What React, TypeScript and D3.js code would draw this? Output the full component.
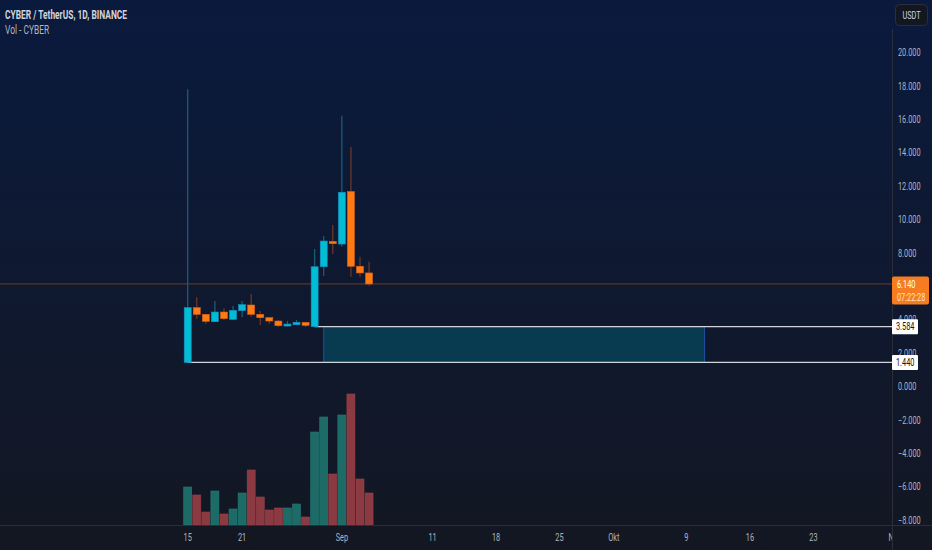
import * as d3 from 'd3'

const W = 932
const H = 550
const PANE_RIGHT = 892
const PANE_BOTTOM = 525

// daily candles, CYBER/USDT from 15 Aug 2023
const startDay = '2023-08-15'
const opens = [1.44, 4.72, 4.32, 3.88, 4.46, 4.02, 4.54, 4.88, 4.32, 4.12, 3.92, 3.62, 3.7, 3.84, 3.584, 7.17, 8.69, 8.53, 11.67, 7.2, 6.8]
const highs = [17.8, 5.34, 4.35, 5.12, 4.68, 4.82, 5.12, 5.54, 4.52, 4.14, 3.98, 3.92, 3.98, 3.86, 8.23, 9.01, 9.67, 16.22, 14.34, 7.77, 7.47]
const lows = [1.44, 4.06, 3.76, 3.86, 3.98, 4.0, 4.14, 4.18, 3.68, 3.76, 3.56, 3.6, 3.68, 3.56, 3.58, 6.62, 7.93, 8.37, 6.57, 6.57, 6.04]
const closes = [4.72, 4.32, 3.9, 4.46, 4.06, 4.56, 4.9, 4.32, 4.12, 3.92, 3.64, 3.74, 3.84, 3.66, 7.17, 8.71, 8.55, 11.63, 7.2, 6.8, 6.14]
// volume, millions CYBER
const volumes = [38, 30, 13, 34, 11, 16, 32, 55, 28, 15, 17, 17, 21, 8, 93, 108, 51, 110, 131, 46, 32]

const priceTicks = [-8, -6, -4, -2, 0, 2, 4, 6, 8, 10, 12, 14, 16, 18, 20]
const timeTickDates = ['2023-08-15', '2023-08-21', '2023-09-01', '2023-09-11', '2023-09-18', '2023-09-25', '2023-10-01', '2023-10-09', '2023-10-16', '2023-10-23', '2023-11-01']
const timeTickLabels = ['15', '21', 'Sep', '11', '18', '25', 'Okt', '9', '16', '23', 'Nov']

const lastPrice = 6.14
const countdown = '07:22:28'
const zoneTop = 3.584
const zoneBottom = 1.44
const zoneLineStart = '2023-08-29'
const zoneStart = '2023-08-30'
const zoneEnd = '2023-10-11'

const UP = '#00bcd4'
const DOWN = '#ff7a12'
const FONT = 'Roboto, "Noto Sans", sans-serif'
const SQUEEZE = 0.7 // the screenshot is narrowed horizontally

const day = (s: string) => new Date(s + 'T00:00:00Z')
const start = day(startDay)
const dates = opens.map((_, i) => d3.utcDay.offset(start, i))

type LabelProps = {
  x: number
  y: number
  fill: string
  size?: number
  weight?: number
  anchor?: 'start' | 'middle' | 'end'
  children: string
}

function Label({ x, y, fill, size = 10.5, weight = 400, anchor = 'start', children }: LabelProps) {
  return (
    <text
      transform={`translate(${x},${y}) scale(${SQUEEZE},1)`}
      dy="0.35em"
      fill={fill}
      fontSize={size}
      fontWeight={weight}
      textAnchor={anchor}
    >
      {children}
    </text>
  )
}

export default function App() {
  const x = d3.scaleUtc().domain([start, day('2023-11-01')]).range([187.7, 895])
  const y = d3.scaleLinear().domain([0, 20]).range([386.5, 52.5])
  const v = d3.scaleLinear().domain([0, 140]).range([PANE_BOTTOM, PANE_BOTTOM - 140])
  const fmt = d3.format('.3f')

  const bodyW = 7
  const volW = 8
  const zx0 = x(day(zoneStart))
  const zx1 = x(day(zoneEnd))

  return (
    <div style={{ position: 'fixed', left: 0, top: 0, width: W, height: H }}>
      <svg width={W} height={H} viewBox={`0 0 ${W} ${H}`} style={{ display: 'block' }} fontFamily={FONT}>
        <defs>
          <linearGradient id="bg" x1="0" x2="0" y1="0" y2="1">
            <stop offset="0%" stopColor="#0a1a3e" />
            <stop offset="100%" stopColor="#131722" />
          </linearGradient>
          <clipPath id="pane">
            <rect x={0} y={0} width={PANE_RIGHT} height={H} />
          </clipPath>
        </defs>
        <rect width={W} height={H} fill="url(#bg)" />

        {/* volume */}
        <g>
          {volumes.map((d, i) => {
            const up = closes[i] >= opens[i]
            return (
              <rect
                key={i}
                x={x(dates[i]) - volW / 2}
                y={v(d)}
                width={volW}
                height={v(0) - v(d)}
                fill={up ? '#1d6b67' : '#8c3a41'}
                stroke={up ? '#247a75' : '#9a4148'}
                strokeWidth={0.6}
              />
            )
          })}
        </g>

        {/* last price line */}
        <line x1={0} x2={PANE_RIGHT} y1={y(lastPrice)} y2={y(lastPrice)} stroke="#f57c20" strokeOpacity={0.4} />

        {/* zone */}
        <rect
          x={zx0}
          y={y(zoneTop)}
          width={zx1 - zx0}
          height={y(zoneBottom) - y(zoneTop)}
          fill="#083a50"
          stroke="#1f4fa8"
          strokeWidth={1}
        />
        <line x1={x(day(zoneLineStart))} x2={PANE_RIGHT} y1={y(zoneTop)} y2={y(zoneTop)} stroke="#d1d4dc" strokeWidth={1.2} />
        <line x1={x(start)} x2={PANE_RIGHT} y1={y(zoneBottom)} y2={y(zoneBottom)} stroke="#d1d4dc" strokeWidth={1.2} />

        {/* candles */}
        <g>
          {opens.map((o, i) => {
            const c = closes[i]
            const up = c >= o
            const cx = x(dates[i])
            const top = y(Math.max(o, c))
            const bot = y(Math.min(o, c))
            return (
              <g key={i}>
                <line
                  x1={cx}
                  x2={cx}
                  y1={y(highs[i])}
                  y2={y(lows[i])}
                  stroke={up ? '#17637c' : '#6e3a26'}
                  strokeWidth={1.2}
                />
                <rect
                  x={cx - bodyW / 2}
                  y={top}
                  width={bodyW}
                  height={Math.max(1.5, bot - top)}
                  fill={up ? UP : DOWN}
                  stroke={up ? '#1a8fc0' : '#d8621a'}
                  strokeWidth={0.6}
                />
              </g>
            )
          })}
        </g>

        {/* title */}
        <Label x={5} y={15} fill="#d1d4dc" size={12} weight={700}>
          CYBER / TetherUS, 1D, BINANCE
        </Label>
        <Label x={5} y={29.5} fill="#b2b5be" size={12}>
          Vol - CYBER
        </Label>

        {/* axes borders */}
        <line x1={PANE_RIGHT + 0.5} x2={PANE_RIGHT + 0.5} y1={29} y2={H} stroke="#2a2e39" />
        <line x1={0} x2={W} y1={PANE_BOTTOM + 0.5} y2={PANE_BOTTOM + 0.5} stroke="#2a2e39" />

        {/* price axis */}
        <g>
          {priceTicks.map((t) => (
            <Label key={t} x={898} y={y(t)} fill="#b2b5be">
              {fmt(t)}
            </Label>
          ))}
        </g>

        {/* time axis */}
        <g clipPath="url(#pane)">
          {timeTickDates.map((d, i) => (
            <Label key={d} x={x(day(d))} y={537.5} anchor="middle" fill="#b2b5be">
              {timeTickLabels[i]}
            </Label>
          ))}
        </g>

        {/* price labels */}
        <g>
          <rect x={892} y={y(lastPrice) - 7.5} width={37} height={28} rx={2} fill="#f57c20" />
          <Label x={897} y={y(lastPrice)} fill="#ffffff">
            {fmt(lastPrice)}
          </Label>
          <Label x={897} y={y(lastPrice) + 13.5} fill="#ffe2cc">
            {countdown}
          </Label>
          {[zoneTop, zoneBottom].map((p) => (
            <g key={p}>
              <rect x={892} y={y(p) - 7.5} width={26} height={15} rx={1} fill="#ffffff" />
              <Label x={896} y={y(p)} fill="#131722">
                {fmt(p)}
              </Label>
            </g>
          ))}
        </g>

        {/* currency button */}
        <rect x={895.5} y={4.5} width={32} height={21} rx={4} fill="#131722" stroke="#2a2e39" />
        <Label x={911.5} y={15} anchor="middle" fill="#d1d4dc">
          USDT
        </Label>
      </svg>
    </div>
  )
}
